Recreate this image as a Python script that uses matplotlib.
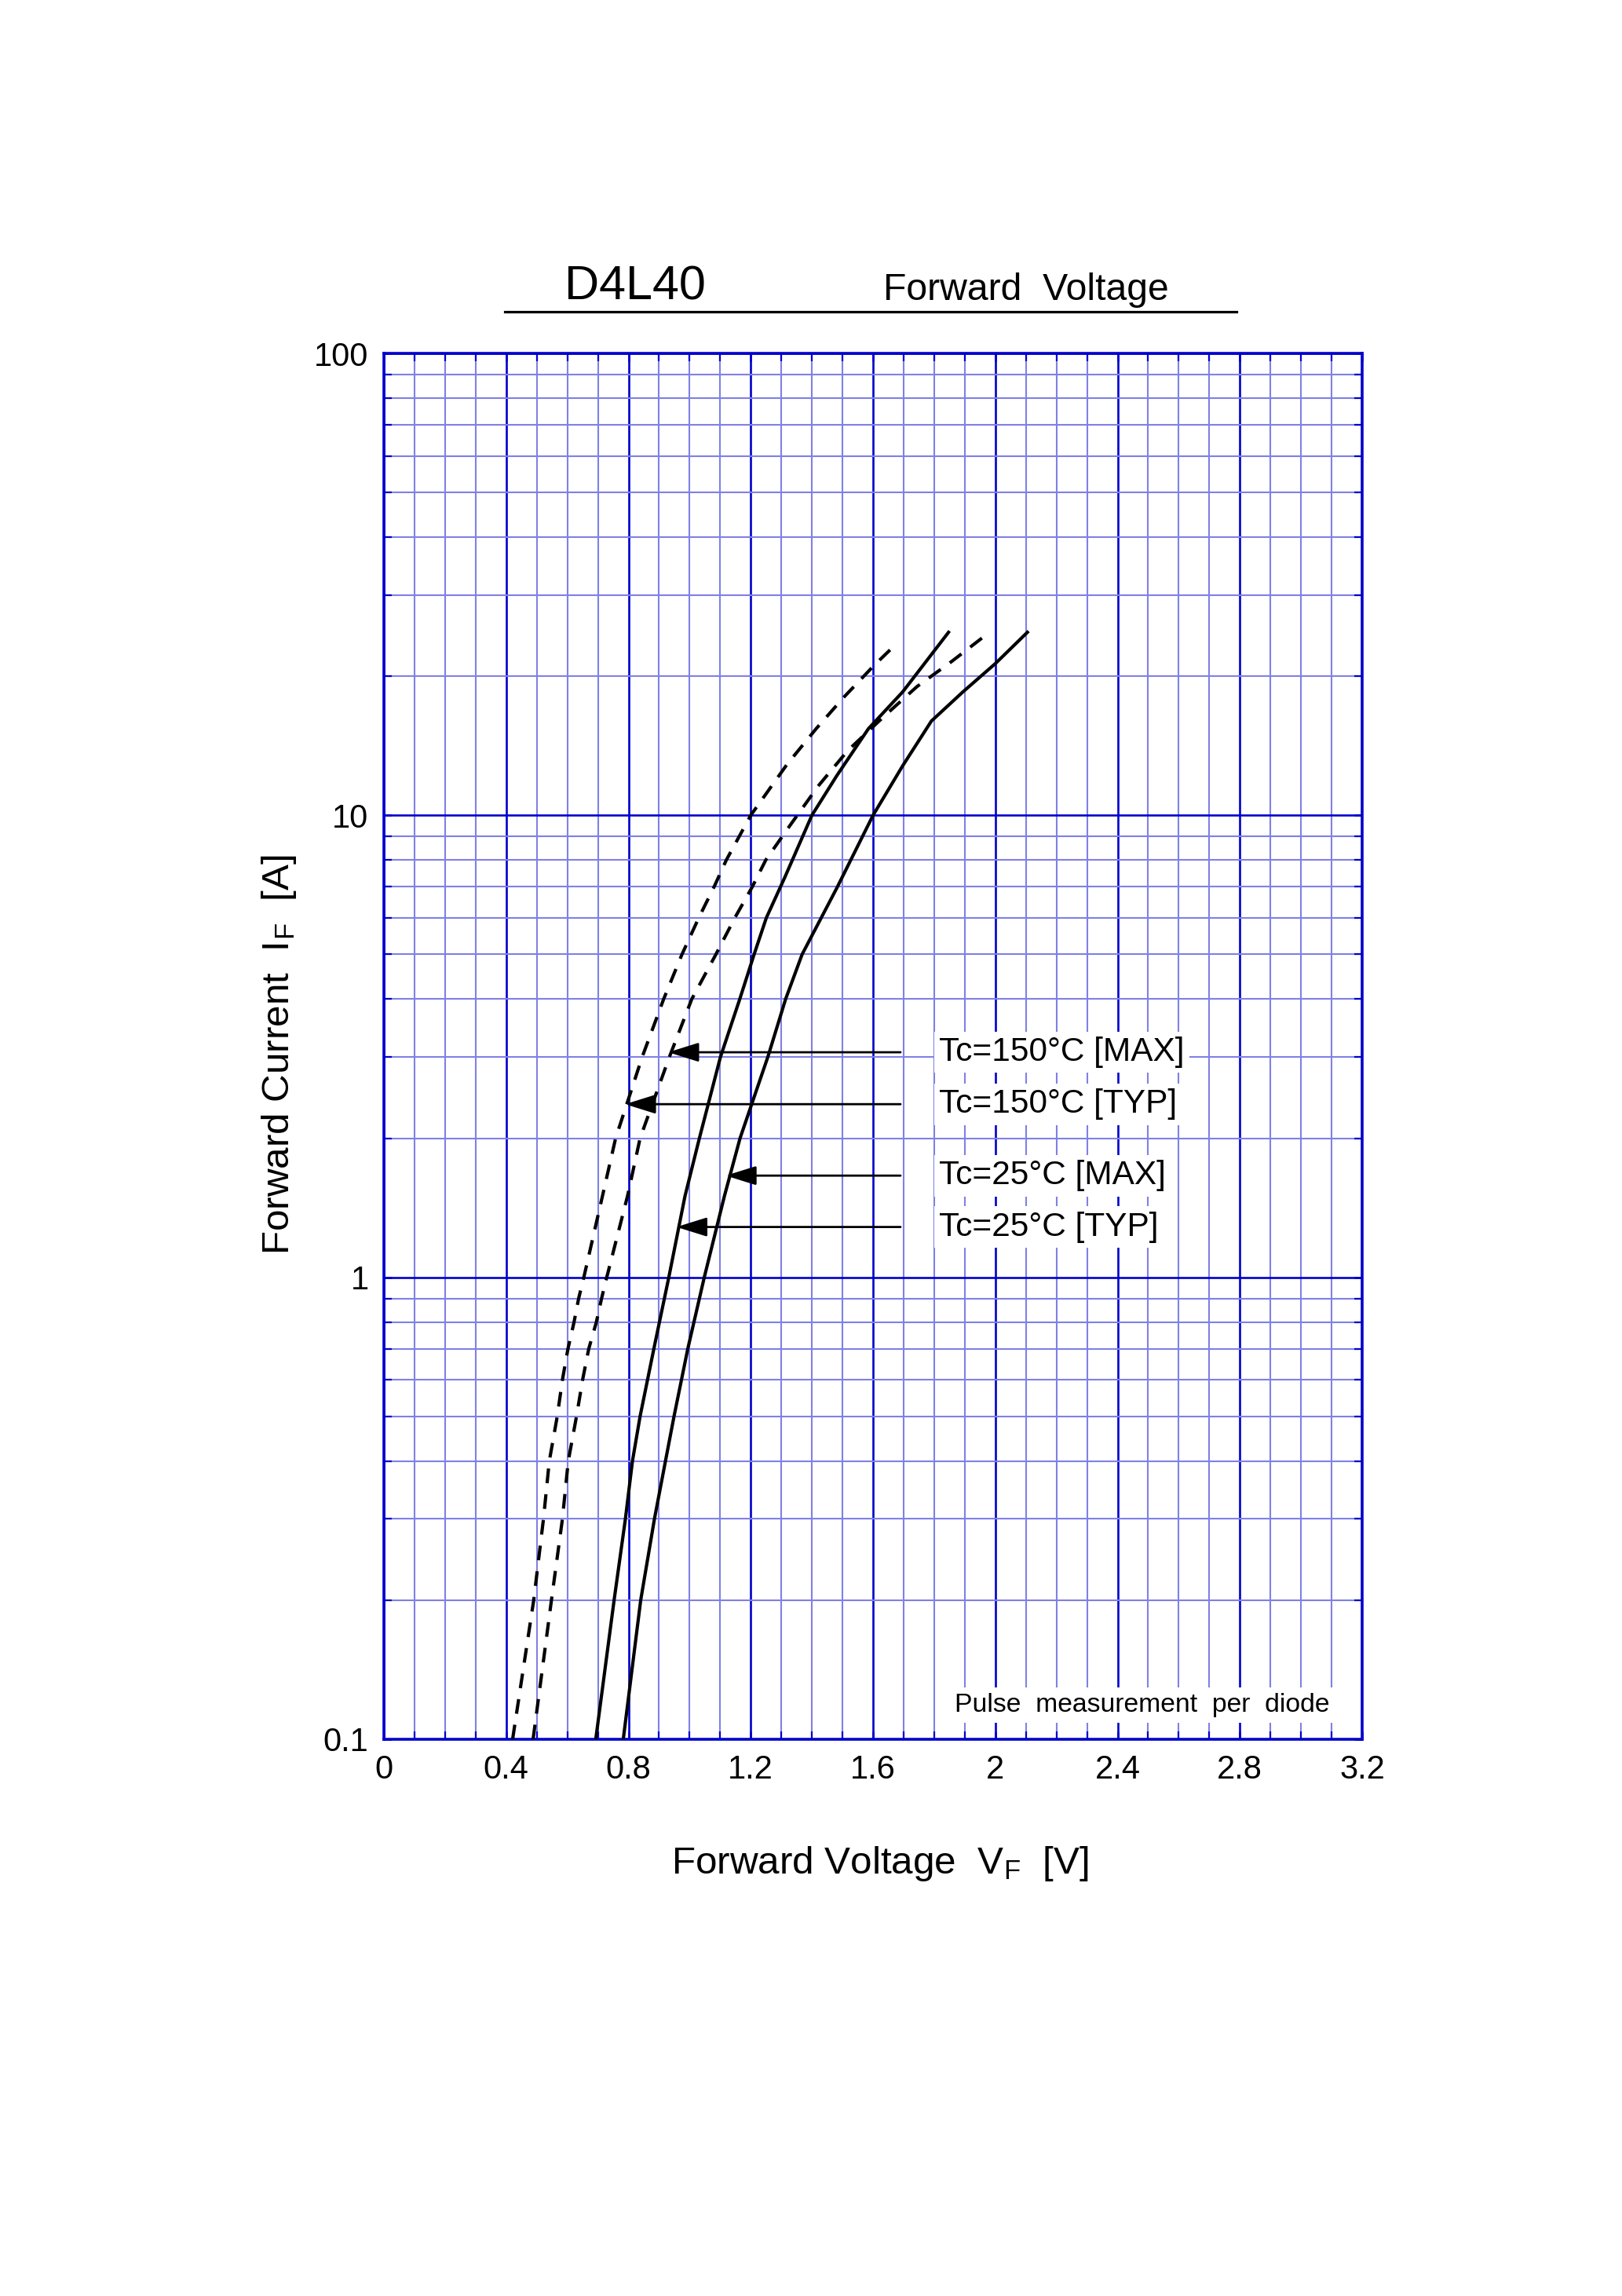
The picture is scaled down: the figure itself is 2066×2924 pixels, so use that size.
import matplotlib
matplotlib.use('Agg')
import matplotlib.pyplot as plt
from matplotlib.ticker import MultipleLocator, FixedLocator, FixedFormatter, LogLocator, NullFormatter
from matplotlib.lines import Line2D

plt.rcParams['font.family'] = ['Liberation Sans', 'DejaVu Sans']
plt.rcParams['mathtext.fontset'] = 'custom'
plt.rcParams['mathtext.rm'] = 'Liberation Sans'

# ---------------- data ----------------
# Tc=150°C [TYP]  (dashed, leftmost)
i_150_typ = [0.1, 0.2, 0.3, 0.4, 0.5, 0.6, 0.7, 0.8, 0.9, 1.0, 1.5, 2.0, 3.0, 4.0, 5.0, 6.0, 7.0, 8.0,
             10, 12.9, 15.4, 18.0, 21.1, 23.5]
v_150_typ = [0.421, 0.490, 0.522, 0.541, 0.567, 0.584, 0.602, 0.622, 0.637, 0.654, 0.715, 0.758, 0.845,
             0.915, 0.975, 1.03, 1.08, 1.12, 1.20, 1.319, 1.414, 1.504, 1.603, 1.676]

# Tc=150°C [MAX]  (dashed)
i_150_max = [0.1, 0.2, 0.3, 0.4, 0.5, 0.6, 0.7, 0.8, 0.9, 1.0, 1.5, 2.0, 3.0, 4.0, 5.0, 6.0, 7.0, 8.0,
             9.5, 11.6, 13.8, 16.4, 19.0, 21.5, 24.5]
v_150_max = [0.488, 0.548, 0.584, 0.603, 0.630, 0.650, 0.670, 0.695, 0.712, 0.729, 0.797, 0.838, 0.934,
             1.007, 1.086, 1.148, 1.205, 1.249, 1.328, 1.422, 1.517, 1.637, 1.744, 1.856, 1.967]

# Tc=25°C [TYP]  (solid)
i_25_typ = [0.1, 0.2, 0.3, 0.4, 0.5, 0.7, 1.0, 1.5, 2.0, 3.0, 4.0, 5.0, 6.0, 7.33, 10, 12.2, 15.4, 18.5, 24.9]
v_25_typ = [0.693, 0.753, 0.790, 0.813, 0.838, 0.883, 0.932, 0.985, 1.032, 1.101, 1.164, 1.211, 1.251,
            1.311, 1.400, 1.482, 1.585, 1.697, 1.847]

# Tc=25°C [MAX]  (solid, rightmost)
i_25_max = [0.1, 0.2, 0.3, 0.4, 0.5, 0.7, 1.0, 1.5, 2.0, 3.0, 4.0, 5.0, 6.97, 10, 12.8, 16.0, 18.5, 21.3, 24.9]
v_25_max = [0.783, 0.840, 0.885, 0.921, 0.949, 0.994, 1.048, 1.114, 1.165, 1.256, 1.314, 1.368, 1.482,
            1.600, 1.697, 1.791, 1.894, 2.000, 2.105]

# legend labels with arrows
labels = ['Tc=150°C [MAX]', 'Tc=150°C [TYP]', 'Tc=25°C [MAX]', 'Tc=25°C [TYP]']
label_i = [3.07, 2.37, 1.66, 1.285]
arrow_tip_v = [0.93, 0.789, 1.118, 0.957]
arrow_tail_v = 1.69
label_v = 1.816

x_ticks = [0, 0.4, 0.8, 1.2, 1.6, 2.0, 2.4, 2.8, 3.2]
x_tick_labels = ['0', '0.4', '0.8', '1.2', '1.6', '2', '2.4', '2.8', '3.2']
y_ticks = [0.1, 1, 10, 100]
y_tick_labels = ['0.1', '1', '10', '100']

DARK = '#0000CC'
LIGHT = '#8080E6'

# ---------------- figure ----------------
W, H = 2066, 2924
fig = plt.figure(figsize=(W / 100, H / 100), dpi=100)
ax = fig.add_axes([489 / W, 1 - 2215 / H, 1246 / W, 1765 / H])
ax.set_yscale('log')
ax.set_xlim(0, 3.2)
ax.set_ylim(0.1, 100)

ax.xaxis.set_major_locator(FixedLocator(x_ticks))
ax.xaxis.set_major_formatter(FixedFormatter(x_tick_labels))
ax.xaxis.set_minor_locator(MultipleLocator(0.1))
ax.yaxis.set_major_locator(FixedLocator(y_ticks))
ax.yaxis.set_major_formatter(FixedFormatter(y_tick_labels))
ax.yaxis.set_minor_locator(LogLocator(base=10, subs=range(2, 10)))
ax.yaxis.set_minor_formatter(NullFormatter())

ax.grid(which='major', color=DARK, lw=1.9)
ax.grid(which='minor', color=LIGHT, lw=1.5)
ax.set_axisbelow(True)
for s in ax.spines.values():
    s.set_color(DARK)
    s.set_linewidth(2.6)
ax.tick_params(which='both', direction='in', top=True, right=True, color=DARK)
ax.tick_params(which='major', length=7, width=1.9, labelsize=30, pad=14)
ax.tick_params(which='minor', length=7, width=1.6)

dash = (4.5, 3.4)
ax.plot(v_150_typ, i_150_typ, color='black', lw=3.0, dashes=dash, zorder=3)
ax.plot(v_150_max, i_150_max, color='black', lw=3.0, dashes=dash, zorder=3)
ax.plot(v_25_typ, i_25_typ, color='black', lw=3.0, zorder=3)
ax.plot(v_25_max, i_25_max, color='black', lw=3.0, zorder=3)

for lab, yi, tip in zip(labels, label_i, arrow_tip_v):
    ax.annotate('', xy=(tip, yi), xytext=(arrow_tail_v, yi),
                arrowprops=dict(arrowstyle='-|>,head_length=1.6,head_width=0.5',
                                lw=2.0, color='black', shrinkA=0, shrinkB=0,
                                mutation_scale=15), zorder=4)
    ax.text(label_v, yi, lab, fontsize=30.5, ha='left', va='center', zorder=5,
            bbox=dict(fc='white', ec='none', boxstyle='square,pad=0.15'))

ax.text(1.867, 0.1147, 'Pulse  measurement  per  diode', fontsize=24.3, ha='left',
        va='baseline', zorder=5,
        bbox=dict(fc='white', ec='none', boxstyle='square,pad=0.2'))

# titles
fig.text(719 / W, 1 - 382 / H, 'D4L40', fontsize=44, ha='left', va='baseline')
fig.text(1125 / W, 1 - 382 / H, 'Forward  Voltage', fontsize=34.7, ha='left', va='baseline')
fig.add_artist(Line2D([643 / W, 1575 / W], [1 - 397 / H, 1 - 397 / H],
                      transform=fig.transFigure, color='black', lw=2.3))

# axis labels
fig.text(1121 / W, 1 - 2386 / H, 'Forward Voltage  $\\mathregular{V_F}$  [V]', fontsize=35.6,
         ha='center', va='baseline')
fig.text(368 / W, 1 - 1343 / H, 'Forward Current  $\\mathregular{I_F}$  [A]', fontsize=35.6,
         rotation=90, rotation_mode='anchor', ha='center', va='baseline')

fig.savefig('out.png', dpi=100, facecolor='white')
